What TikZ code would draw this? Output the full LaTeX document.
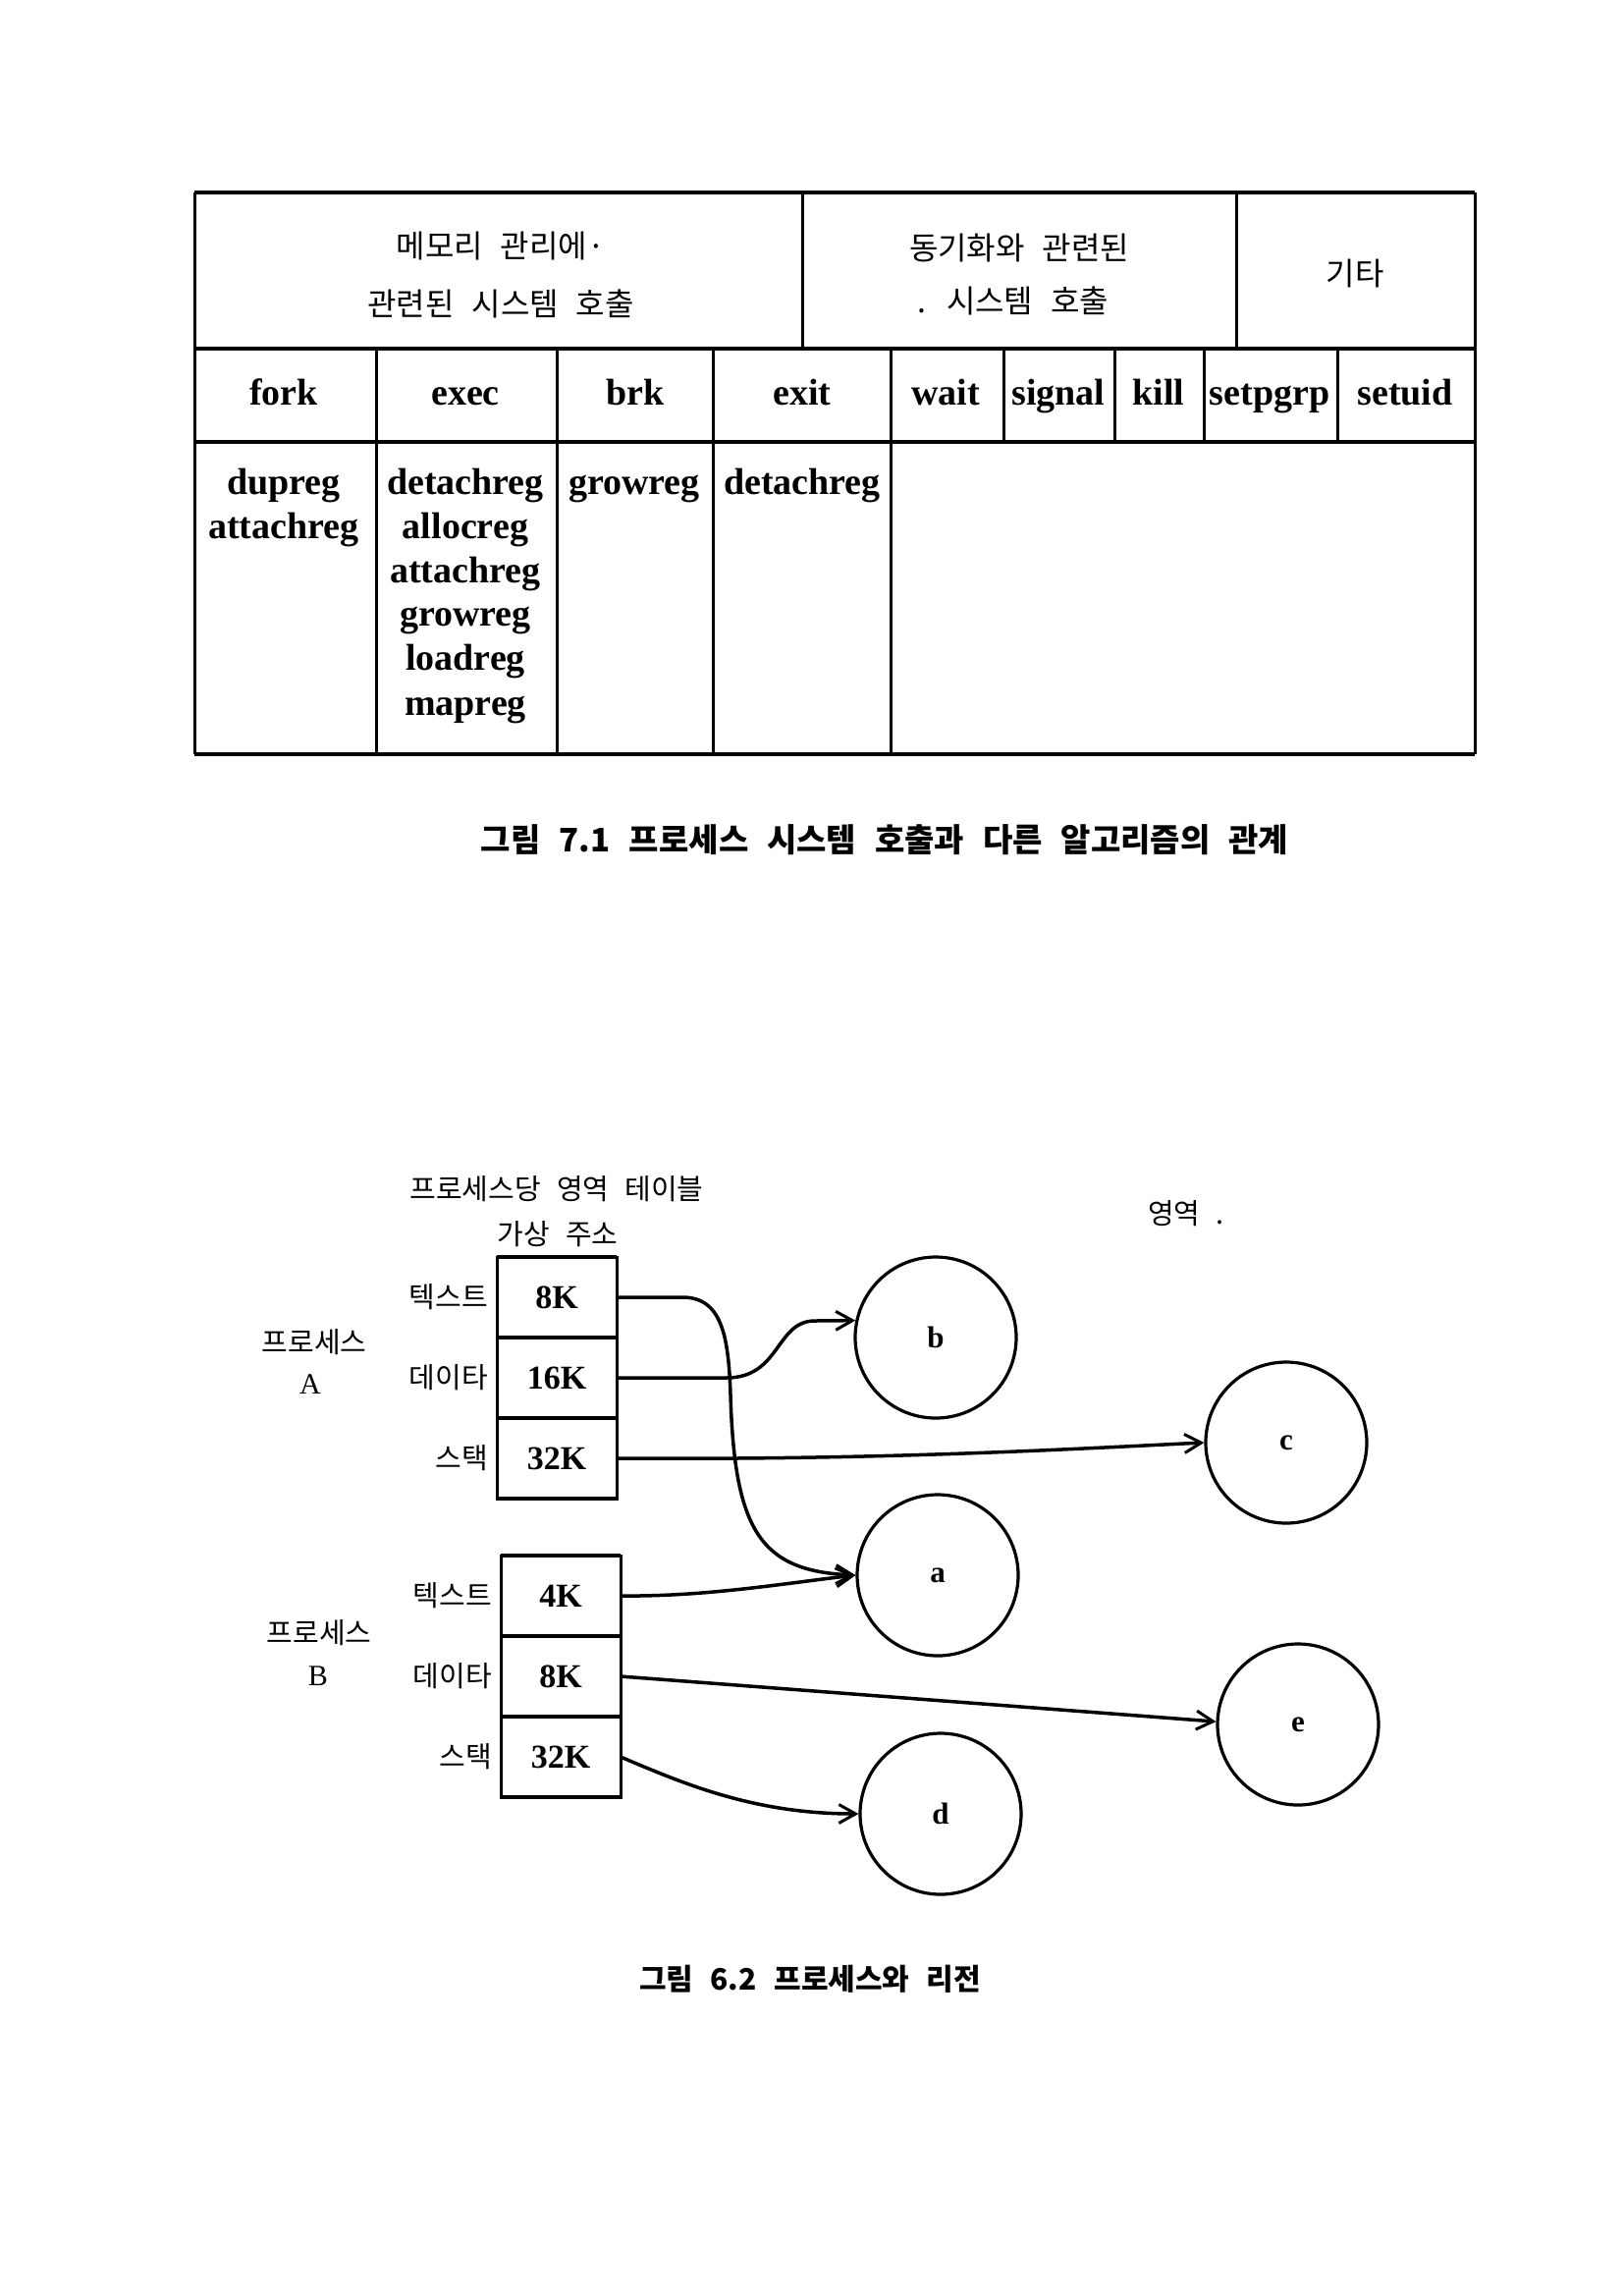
\documentclass[tikz,border=0pt]{standalone}
\usepackage{fontspec}
\setmainfont{Liberation Serif}
\newfontfamily\kr[WordSpace=2.5]{Noto Sans CJK KR}
\usetikzlibrary{arrows.meta}
\begin{document}
\begin{tikzpicture}[x=1pt,y=-1pt,
  hline/.style={line width=4.8pt},
  vline/.style={line width=3pt},
  lat/.style={font=\fontsize{38}{45}\selectfont\bfseries, inner sep=0pt, anchor=base},
  krh/.style={font=\kr\fontsize{32}{38}\selectfont, inner sep=0pt},
  capt/.style={font=\kr\bfseries\fontsize{33}{38}\selectfont, inner sep=0pt},
  cell/.style={draw, line width=3pt, minimum width=122pt, minimum height=82pt, inner sep=0pt, outer sep=0pt, font=\fontsize{34}{40}\selectfont\bfseries},
  reg/.style={circle, draw, line width=3.2pt, minimum size=164pt, inner sep=0pt, font=\fontsize{31}{36}\selectfont\bfseries},
  arr/.style={line width=3.5pt, -{Straight Barb[length=17pt,width=19pt,line width=3pt]}},
  krl/.style={font=\kr\fontsize{29}{34}\selectfont, inner sep=0pt},
  proc/.style={font=\fontsize{30}{34}\selectfont, inner sep=0pt},
]
\fill[white] (0,0) rectangle (1654,2338);
\useasboundingbox (0,0) rectangle (1654,2338);

% ---------- table ----------
\draw[hline] (198,196) -- (1502,196);
\draw[hline] (198,355) -- (1502,355);
\draw[hline] (198,450) -- (1502,450);
\draw[hline] (198,768) -- (1502,768);
\draw[vline] (198,196) -- (198,768);
\draw[vline] (1502,196) -- (1502,768);
\foreach \x in {817,1259} \draw[vline] (\x,196) -- (\x,355);
\foreach \x in {383,567,726,907,1022,1135,1226,1362} \draw[vline] (\x,355) -- (\x,450);
\foreach \x in {383,567,726,907} \draw[vline] (\x,450) -- (\x,768);

\node[krh] (h1a) at (510,251) {메모리 관리에·};
\node[krh] (h1b) at (510,309) {관련된 시스템 호출};
\node[krh] (h2a) at (1038,253) {동기화와 관련된};
\node[krh] (h2b) at (1032,306) {. 시스템 호출};
\node[krh] (h3) at (1380,279) {기타};

\node[lat] (fork) at (289,412) {fork};
\node[lat] (exec) at (474,412) {exec};
\node[lat] (brk) at (647,412) {brk};
\node[lat] (exit) at (817,412) {exit};
\node[lat] (wait) at (963,412) {wait};
\node[lat] (signal) at (1078,412) {signal};
\node[lat] (kill) at (1180,412) {kill};
\node[lat] (setpgrp) at (1293,412) {setpgrp};
\node[lat] (setuid) at (1431,412) {setuid};

\node[lat] (f1) at (289,503) {dupreg};
\node[lat] (f2) at (289,548) {attachreg};
\node[lat] (e1) at (474,503) {detachreg};
\node[lat] (e2) at (474,548) {allocreg};
\node[lat] (e3) at (474,593) {attachreg};
\node[lat] (e4) at (474,637) {growreg};
\node[lat] (e5) at (474,682) {loadreg};
\node[lat] (e6) at (474,728) {mapreg};
\node[lat] (b1) at (646,503) {growreg};
\node[lat] (x1) at (817,503) {detachreg};

\node[capt] (cap1) at (901,855) {그림 7.1\hspace{0.6em}프로세스 시스템 호출과 다른 알고리즘의 관계};

% ---------- regions diagram ----------
\node[krl] (t1) at (567,1211) {프로세스당 영역 테이블};
\node[krl] (t2) at (568,1257) {가상 주소};
\node[krl, anchor=west] (t3) at (1169,1236) {영역 .};

\node[cell] (A1) at (567,1321) {8K};
\node[cell] (A2) at (567,1403) {16K};
\node[cell] (A3) at (567,1485) {32K};
\node[cell] (B1) at (571,1625) {4K};
\node[cell] (B2) at (571,1707) {8K};
\node[cell] (B3) at (571,1789) {32K};
\foreach \n in {A1,A2,A3,B1,B2,B3} {
  \draw[hline] (\n.north west) -- (\n.north east);
  \draw[hline] (\n.south west) -- (\n.south east);
}

\node[krl, anchor=east] (la1) at ([xshift=-9pt]A1.west) {텍스트};
\node[krl, anchor=east] (la2) at ([xshift=-9pt]A2.west) {데이타};
\node[krl, anchor=east] (la3) at ([xshift=-9pt]A3.west) {스택};
\node[krl, anchor=east] (lb1) at ([xshift=-9pt]B1.west) {텍스트};
\node[krl, anchor=east] (lb2) at ([xshift=-9pt]B2.west) {데이타};
\node[krl, anchor=east] (lb3) at ([xshift=-9pt]B3.west) {스택};

\node[krl] (pa) at (320,1367) {프로세스};
\node[proc] (pA) at (316,1410) {A};
\node[krl] (pb) at (325,1663) {프로세스};
\node[proc] (pB) at (324,1707) {B};

\node[reg] (b) at (953,1362) {b};
\node[reg] (c) at (1310,1469) {c};
\node[reg] (a) at (955,1604) {a};
\node[reg] (e) at (1322,1756) {e};
\node[reg] (d) at (958,1847) {d};

\draw[arr] (A1.east) -- (695,1321) .. controls (735,1321) and (742,1360) .. (744,1420) .. controls (748,1560) and (775,1600) .. (a.west);
\draw[arr] (A2.east) -- (740,1403) .. controls (795,1403) and (790,1345) .. (830,1345) -- (b.168);
\draw[arr] (A3.east) .. controls (900,1487) and (1100,1475) .. (c.west);
\draw[arr] (B1.east) .. controls (720,1626) and (800,1612) .. (a.west);
\draw[arr] (B2.east) -- (e.178);
\draw[arr] (B3.east) .. controls (700,1818) and (770,1847) .. (d.west);

\node[capt, font=\kr\bfseries\fontsize{30}{34}\selectfont] (cap2) at (825,2015) {그림 6.2\hspace{0.6em}프로세스와 리전};
\end{tikzpicture}
\end{document}
